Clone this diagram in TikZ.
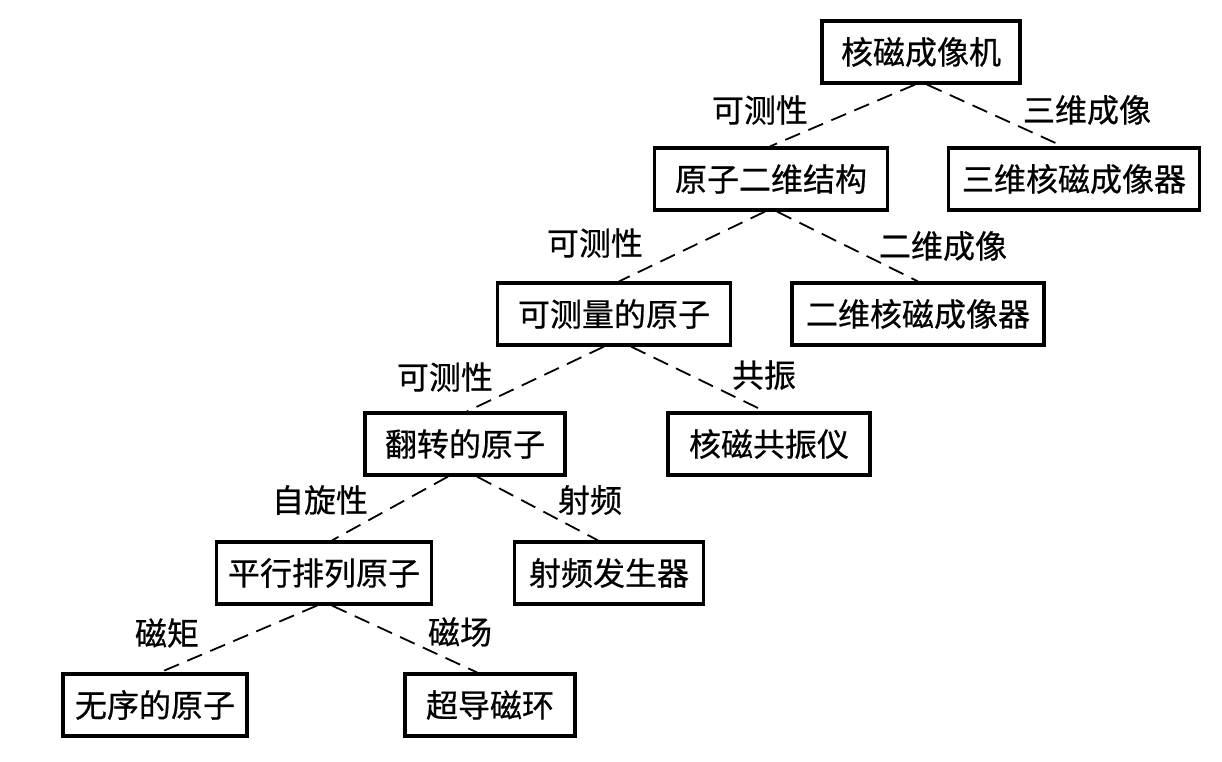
\documentclass[tikz,border=0pt]{standalone}
\usepackage{fontspec}
\newfontfamily\cjk[FakeBold=0.6]{Noto Sans CJK SC}
\begin{document}
\begin{tikzpicture}[x=1pt,y=-1pt,
  box/.style={draw=black, line width=3.2pt, inner sep=0pt, minimum height=62pt, font=\cjk\fontsize{32pt}{36pt}\selectfont},
  lbl/.style={inner sep=0pt, font=\cjk\fontsize{32pt}{36pt}\selectfont},
  link/.style={line width=1.8pt, dash pattern=on 16pt off 9pt}]
\useasboundingbox (0,0) rectangle (1222,762);
\node[box, minimum width=198pt] (n1) at (921,52) {核磁成像机};
\node[box, minimum width=233pt] (n2) at (771,179) {原子二维结构};
\node[box, minimum width=251pt] (n3) at (1074,179) {三维核磁成像器};
\node[box, minimum width=233pt] (n4) at (614,314) {可测量的原子};
\node[box, minimum width=252pt] (n5) at (918,314) {二维核磁成像器};
\node[box, minimum width=200pt] (n6) at (465,444) {翻转的原子};
\node[box, minimum width=202pt] (n7) at (769,444) {核磁共振仪};
\node[box, minimum width=215pt] (n8) at (324,573) {平行排列原子};
\node[box, minimum width=189pt] (n9) at (609,573) {射频发生器};
\node[box, minimum width=184pt] (n10) at (155,705) {无序的原子};
\node[box, minimum width=170pt] (n11) at (490,705) {超导磁环};
\draw[link] ([xshift=-6pt]n1.south) -- ([xshift=-1pt]n2.north);
\draw[link] ([xshift=6pt]n1.south) -- ([xshift=-11pt]n3.north);
\draw[link] ([xshift=-6pt]n2.south) -- ([xshift=5pt]n4.north);
\draw[link] ([xshift=6pt]n2.south) -- ([xshift=0pt]n5.north);
\draw[link] ([xshift=-10pt]n4.south) -- ([xshift=2pt]n6.north);
\draw[link] ([xshift=17pt]n4.south) -- ([xshift=-4pt]n7.north);
\draw[link] ([xshift=-17pt]n6.south) -- ([xshift=8pt]n8.north);
\draw[link] ([xshift=12pt]n6.south) -- ([xshift=-11pt]n9.north);
\draw[link] ([xshift=-7pt]n8.south) -- ([xshift=5pt]n10.north);
\draw[link] ([xshift=8pt]n8.south) -- ([xshift=-13pt]n11.north);
\node[lbl] (l1) at (760,110) {可测性};
\node[lbl] (l2) at (1087,110) {三维成像};
\node[lbl] (l3) at (595,243) {可测性};
\node[lbl] (l4) at (943,246) {二维成像};
\node[lbl] (l5) at (445,377) {可测性};
\node[lbl] (l6) at (764,375) {共振};
\node[lbl] (l7) at (320,500) {自旋性};
\node[lbl] (l8) at (590,500) {射频};
\node[lbl] (l9) at (167,633) {磁矩};
\node[lbl] (l10) at (460,632) {磁场};
\end{tikzpicture}
\end{document}
